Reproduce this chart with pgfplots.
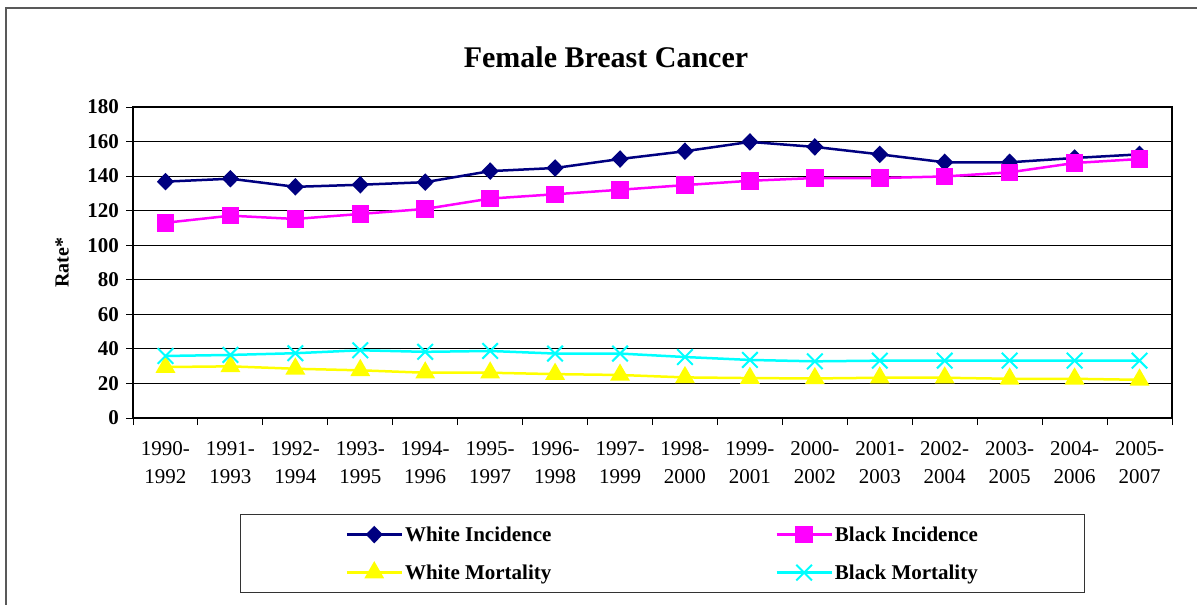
\documentclass[border=0pt]{standalone}
\usepackage{pgfplots}
\pgfplotsset{compat=1.18}
\usepackage{fontspec}
\setmainfont{Liberation Serif}
\definecolor{wi}{RGB}{0,0,128}
\definecolor{bi}{RGB}{255,0,255}
\definecolor{wm}{RGB}{255,255,0}
\definecolor{bm}{RGB}{0,255,255}
\begin{document}
\begin{tikzpicture}[x=1pt,y=1pt]
\fill[white] (0,0) rectangle (1197,-605);
\path[use as bounding box] (0,0) rectangle (1197,-605);
\draw[line width=2pt, black!65] (6,-605) -- (6,-8) -- (1197,-8);
\node[font=\bfseries\fontsize{30}{36}\selectfont] at (606,-57) {Female Breast Cancer};
\begin{axis}[
  at={(133pt,-418pt)}, anchor=south west,
  scale only axis, width=1039pt, height=311pt,
  xmin=0.5, xmax=16.5, ymin=0, ymax=180,
  ytick={0,20,...,180},
  xtick={0.5,1.5,...,16.5}, xticklabels={},
  extra x ticks={1,2,...,16},
  extra x tick labels={{1990-\\1992},{1991-\\1993},{1992-\\1994},{1993-\\1995},{1994-\\1996},{1995-\\1997},{1996-\\1998},{1997-\\1999},{1998-\\2000},{1999-\\2001},{2000-\\2002},{2001-\\2003},{2002-\\2004},{2003-\\2005},{2004-\\2006},{2005-\\2007}},
  extra x tick style={major tick length=0pt, grid=none},
  xticklabel style={align=center, font=\fontsize{21}{28}\selectfont, yshift=-20pt},
  yticklabel style={font=\bfseries\fontsize{21}{21}\selectfont, inner sep=1pt, xshift=-6pt},
  /pgf/number format/assume math mode=true,
  ymajorgrids, grid style={black, line width=0.9pt},
  axis line style={line width=2.5pt},
  tick align=outside, major tick length=7pt,
  tick style={black, line width=1pt},
  xtick pos=left, ytick pos=left,
  ylabel={Rate*},
  ylabel style={at={(axis description cs:-0.0683,0.5)}, anchor=center, font=\bfseries\fontsize{20}{24}\selectfont},
  legend columns=2,
  legend cell align=left,
  legend style={at={(axis description cs:0.103,-0.3087)}, anchor=north west,
    draw=black!80, line width=1pt,
    font=\bfseries\fontsize{21}{25}\selectfont,
    inner xsep=105pt, inner ysep=10pt,
    row sep=18pt,
    /tikz/column 2/.style={column sep=222pt}},
  legend image code/.code={\draw[mark repeat=2,mark phase=2] plot coordinates {(0pt,0pt) (27.5pt,0pt) (55pt,0pt)};},
]
\addplot[color=wi, line width=2.5pt, mark=diamond*, mark size=7pt, mark options={solid, fill=wi, xscale=1.3}]
  coordinates {(1,136.8)(2,138.5)(3,133.8)(4,135.0)(5,136.5)(6,142.9)(7,144.7)(8,149.9)(9,154.4)(10,159.8)(11,156.9)(12,152.6)(13,148.0)(14,148.0)(15,150.5)(16,152.6)};
\addlegendentry{White Incidence}
\addplot[color=bi, line width=2.5pt, mark=square*, mark size=7.5pt, mark options={solid, fill=bi}]
  coordinates {(1,113.0)(2,117.1)(3,115.2)(4,118.1)(5,121.0)(6,127.0)(7,129.5)(8,132.1)(9,134.8)(10,137.3)(11,138.9)(12,138.9)(13,139.8)(14,142.2)(15,147.6)(16,149.9)};
\addlegendentry{Black Incidence}
\addplot[color=wm, line width=2.5pt, mark=triangle*, mark size=9pt, mark options={solid, fill=wm}]
  coordinates {(1,29.5)(2,29.9)(3,28.5)(4,27.6)(5,26.2)(6,26.2)(7,25.4)(8,24.9)(9,23.5)(10,23.1)(11,22.9)(12,23.3)(13,23.3)(14,22.7)(15,22.7)(16,22.1)};
\addlegendentry{White Mortality}
\addplot[color=bm, line width=2.5pt, mark=x, mark size=11pt, mark options={solid, line width=2pt}]
  coordinates {(1,35.9)(2,36.5)(3,37.5)(4,39.2)(5,38.3)(6,38.8)(7,37.3)(8,37.3)(9,35.3)(10,33.6)(11,32.8)(12,33.2)(13,33.2)(14,33.2)(15,33.2)(16,33.2)};
\addlegendentry{Black Mortality}
\end{axis}
\end{tikzpicture}
\end{document}
